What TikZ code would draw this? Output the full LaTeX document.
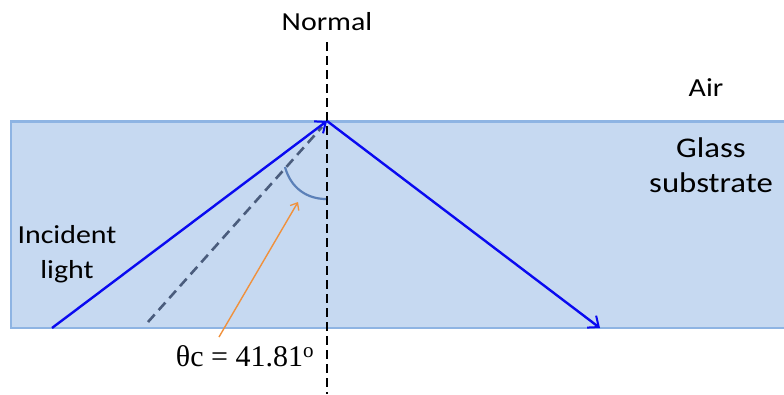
\documentclass[tikz,border=0pt]{standalone}
\usepackage{fontspec}
\setmainfont{Carlito}
\newfontfamily\timesfont{Liberation Serif}
\usetikzlibrary{arrows.meta}
\definecolor{glassfill}{HTML}{C6D9F1}
\definecolor{glassedge}{HTML}{8EB4E3}
\definecolor{raybl}{HTML}{0A0AF0}
\definecolor{dashgray}{HTML}{4A5C7C}
\definecolor{arcblue}{HTML}{5B80B8}
\definecolor{orangeln}{HTML}{F0913C}
\tikzset{
  lbl/.style={inner sep=0pt, align=center, xscale=1.15, font=\fontsize{26}{35}\selectfont},
  ray/.style={draw=raybl, line width=2.4pt, -{Straight Barb[length=9pt,width=15pt,line width=2pt]}},
}
\begin{document}
\begin{tikzpicture}[x=1pt,y=-1pt]
\useasboundingbox (0,0) rectangle (784,394);
% glass substrate
\fill[glassfill] (11,120) rectangle (790,328);
\draw[glassedge, line width=1.5pt] (790,328) -- (11,328) -- (11,120);
\draw[glassedge, line width=3pt] (11,121) -- (790,121);
% coordinates
\coordinate (top) at (327,121);
\coordinate (inc) at (52,328);
\coordinate (refl) at (600,328);
\coordinate (ntop) at (327,42);
\coordinate (nbot) at (327,394);
\coordinate (dstart) at (148,322);
\coordinate (dend) at (322,127);
\coordinate (arcA) at (285,167);
\coordinate (arcB) at (326,199);
\coordinate (oA) at (219,337);
\coordinate (oB) at (298,202);
% normal
\draw[black, line width=2.4pt, dash pattern=on 9pt off 5pt] (ntop) -- (nbot);
% dashed critical line
\draw[dashgray, line width=2.6pt, dash pattern=on 10pt off 6pt] (dstart) -- (dend);
% arc
\draw[arcblue, line width=2.2pt] (arcA) .. controls (291,189) and (308,199) .. (arcB);
% rays
\draw[ray] (inc) -- (top);
\draw[ray] (top) -- (refl);
% orange pointer
\draw[orangeln, line width=1.4pt, -{Straight Barb[length=6pt,width=10pt,line width=1.3pt]}] (oA) -- (oB);
% labels
\node[lbl] (normal) at (327,22) {Normal};
\node[lbl] (air) at (706,88) {Air};
\node[lbl, font=\fontsize{28.5}{35}\selectfont] (glass) at (711,165) {Glass\\substrate};
\node[lbl] (incid) at (67,254) {Incident\\light};
\node[inner sep=0pt, font=\timesfont\fontsize{30}{36}\selectfont] (theta) at (245,356) {θc = 41.81\textsuperscript{o}};
\end{tikzpicture}
\end{document}
